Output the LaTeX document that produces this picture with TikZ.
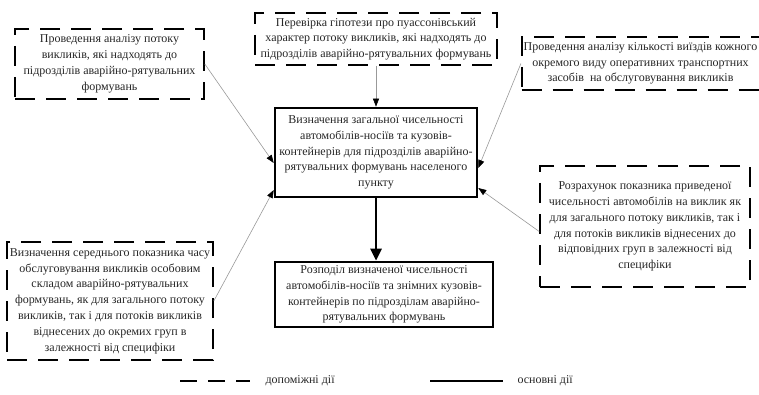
\documentclass[tikz,border=0pt]{standalone}
\usepackage{fontspec}
\setmainfont{Liberation Serif}
\usetikzlibrary{arrows.meta}

\tikzset{
  auxbox/.style={draw, line width=1.6pt, dash pattern=on 20pt off 11pt, align=center,
    inner sep=2pt, font=\fontsize{12}{15.8}\selectfont, text=black!85},
  mainbox/.style={draw, line width=2.6pt, align=center,
    inner sep=2pt, font=\fontsize{12}{15.8}\selectfont, text=black!85},
  auxarrow/.style={draw=black!40, line width=0.6pt, -{Triangle[black, length=8pt, width=6pt]}},
  mainarrow/.style={line width=2.6pt, -{Triangle[length=12pt, width=11pt]}}
}

\begin{document}
\begin{tikzpicture}[x=1pt, y=-1pt]
  \useasboundingbox (0,0) rectangle (759,395);

  % Основний блок
  \node[mainbox, minimum width=202pt, minimum height=89pt] (main) at (376,152.5)
    {Визначення загальної чисельності\\автомобілів-носіїв та кузовів-\\контейнерів для підрозділів аварійно-\\рятувальних формувань населеного\\пункту};

  % Розподіл
  \node[mainbox, minimum width=218pt, minimum height=65pt] (distr) at (384,294.5)
    {Розподіл визначеної чисельності\\автомобілів-носіїв та знімних кузовів-\\контейнерів по підрозділам аварійно-\\рятувальних формувань};

  % Допоміжні блоки
  \node[auxbox, minimum width=189pt, minimum height=70pt] (flow) at (109.5,64)
    {Проведення аналізу потоку\\викликів, які надходять до\\підрозділів аварійно-рятувальних\\формувань};

  \node[auxbox, minimum width=242pt, minimum height=52pt] (poisson) at (376,39)
    {Перевірка гіпотези про пуассонівський\\характер потоку викликів, які надходять до\\підрозділів аварійно-рятувальних формувань};

  \node[auxbox, minimum width=233pt, minimum height=53pt] (trips) at (640.5,63.5)
    {Проведення аналізу кількості виїздів кожного\\окремого виду оперативних транспортних\\засобів\ \ на обслуговування викликів};

  \node[auxbox, minimum width=210pt, minimum height=121pt] (reduced) at (645,226.5)
    {Розрахунок показника приведеної\\чисельності автомобілів на виклик як\\для загального потоку викликів, так і\\для потоків викликів віднесених до\\відповідних груп в залежності від\\специфіки};

  \node[auxbox, minimum width=206pt, minimum height=118pt] (service) at (110,301)
    {Визначення середнього показника часу\\обслуговування викликів особовим\\складом аварійно-рятувальних\\формувань, як для загального потоку\\викликів, так і для потоків викликів\\віднесених до окремих груп в\\залежності від специфіки};

  % Зв'язки
  \draw[auxarrow] (poisson.south) -- (main.north);
  \draw[auxarrow] (flow.east) -- ([yshift=-10.5pt]main.west);
  \draw[auxarrow] (service.east) -- ([yshift=-37.5pt]main.west);
  \draw[auxarrow] (trips.west) -- ([yshift=-15.5pt]main.east);
  \draw[auxarrow] ([yshift=-5pt]reduced.west) -- ([yshift=-35.5pt]main.east);
  \draw[mainarrow] (main.south) -- (main.south |- distr.north);

  % Легенда
  \coordinate (dashA) at (180,381);
  \coordinate (dashB) at (250,381);
  \draw[line width=2.6pt, dash pattern=on 17pt off 11pt] (dashA) -- (dashB);
  \node[anchor=west, font=\fontsize{12}{14}\selectfont, text=black!85] (auxtext) at (262,381) {допоміжні дії};

  \coordinate (solidA) at (430,381);
  \coordinate (solidB) at (503,381);
  \draw[line width=2.6pt] (solidA) -- (solidB);
  \node[anchor=west, font=\fontsize{12}{14}\selectfont, text=black!85] (maintext) at (514,381) {основні дії};
\end{tikzpicture}
\end{document}
